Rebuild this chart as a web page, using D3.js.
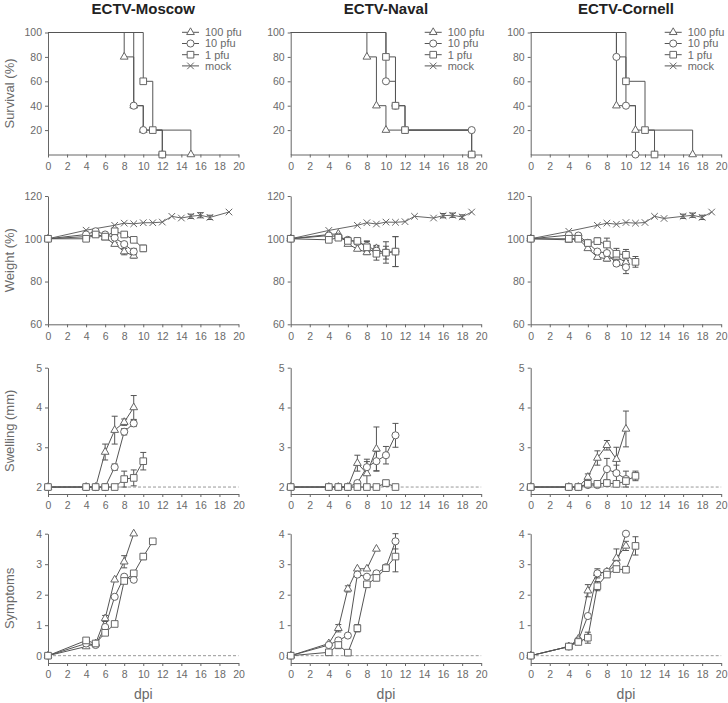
<!DOCTYPE html>
<html>
<head>
<meta charset="utf-8">
<script src="https://cdnjs.cloudflare.com/ajax/libs/d3/7.8.5/d3.min.js"></script>
<style>
body { margin: 0; background: #fff; }
text { font-family: "Liberation Sans", Arial, Helvetica, sans-serif; }
</style>
</head>
<body>
<svg id="chart" width="728" height="703"></svg>
<script>
// strains (columns) and groups (series)
var strains = ["ECTV-Moscow", "ECTV-Naval", "ECTV-Cornell"];
var groups = ["100 pfu", "10 pfu", "1 pfu", "mock"];
var dayTicks = [0, 2, 4, 6, 8, 10, 12, 14, 16, 18, 20];

// survival: [day, percent] - first point is the start, then each drop
var survMoscow = [
    [[0, 100], [8, 80], [9, 40], [10, 20], [15, 0]],
    [[0, 100], [9, 40], [10, 20], [12, 0]],
    [[0, 100], [10, 60], [11, 20], [12, 0]]
];
var survNaval = [
    [[0, 100], [8, 80], [9, 40], [10, 20], [19, 0]],
    [[0, 100], [10, 60], [11, 40], [12, 20], [19, 20]],
    [[0, 100], [10, 80], [11, 40], [12, 20], [19, 0]]
];
var survCornell = [
    [[0, 100], [9, 40], [11, 20], [17, 0]],
    [[0, 100], [9, 80], [10, 40], [11, 0]],
    [[0, 100], [10, 60], [12, 20], [13, 0]]
];

// weight: [day, mean %, sd]
var weightMoscow = [
    [[0, 100], [4, 101], [5, 102, 0.5], [6, 100.5, 0.5], [7, 97.5, 0.8], [8, 94, 1.5], [9, 92, 1]],
    [[0, 100], [4, 102], [5, 103.5], [6, 102, 0.5], [7, 100.5, 0.5], [8, 97.5, 1], [9, 94, 1.5]],
    [[0, 100], [4, 100], [5, 102, 0.5], [6, 101, 0.5], [7, 103.5, 0.8], [8, 102, 0.5], [9, 99.5, 1], [10, 95.5, 1.5]],
    [[0, 100], [4, 104], [7, 106.3], [8, 107.3], [9, 107], [10, 107.5], [11, 107.5], [12, 107.8], [13, 110.5], [14, 109.7], [15, 110.5, 1], [16, 111, 1.2], [17, 110, 1], [19, 112.5]]
];
var weightNaval = [
    [[0, 100], [4, 102], [5, 102.3], [6, 97.5], [7, 95.2], [8, 93.6, 1], [9, 95.5, 1]],
    [[0, 100], [4, 101.5], [5, 101], [6, 99.5], [7, 98.5, 1], [8, 96.7, 2], [9, 94.4, 2.5], [10, 93.6, 5], [11, 94, 7]],
    [[0, 100], [4, 99.5], [5, 100.5], [6, 99], [7, 99, 1], [8, 96, 3], [9, 93, 3], [10, 93.5, 3], [11, 94, 7]],
    [[0, 100], [4, 103.9], [7, 106.3], [8, 107.5], [9, 106.9], [10, 107.8], [11, 107.7], [12, 108], [13, 110.5], [15, 109.7], [16, 110.8, 1], [17, 111, 1], [18, 110.2, 1], [19, 112.5]]
];
var weightCornell = [
    [[0, 100], [4, 99.5, 1], [5, 100], [6, 95.5], [7, 91.4], [8, 90.6, 1], [9, 91.5, 2], [10, 89, 2]],
    [[0, 100], [4, 101.7], [5, 101.5], [6, 98.1], [7, 94], [8, 93.3], [9, 88.4, 1], [10, 86.7, 3]],
    [[0, 100], [4, 100], [5, 100], [6, 98], [7, 98.9, 1.5], [8, 97.3, 3], [9, 93, 2.5], [10, 92.5, 2.5], [11, 89.2, 2.5]],
    [[0, 100], [4, 103.5], [7, 106.3], [8, 107.3], [9, 106.8], [10, 107.6], [11, 107.3], [12, 107.6], [13, 110.5], [14, 109.5], [16, 110.5, 1], [17, 111, 1], [18, 110, 1], [19, 112.5]]
];

// footpad swelling: [day, mm, sd]
var swellMoscow = [
    [[0, 2], [4, 2], [5, 2], [6, 2.88, 0.2], [7, 3.43, 0.35], [8, 3.63, 0.08], [9, 4.0, 0.3]],
    [[0, 2], [4, 2], [5, 2], [6, 2], [7, 2.5, 0.08], [8, 3.39, 0.08], [9, 3.6, 0.08]],
    [[0, 2], [4, 2], [5, 2], [6, 2], [7, 2], [8, 2.2, 0.2], [9, 2.23, 0.2], [10, 2.65, 0.22]]
];
var swellNaval = [
    [[0, 2], [4, 2], [5, 2], [6, 2], [7, 2.6, 0.2], [8, 2.34, 0.3], [9, 2.96, 0.55]],
    [[0, 2], [4, 2], [5, 2], [6, 2], [7, 2.1], [8, 2.5, 0.2], [9, 2.65, 0.25], [10, 2.8, 0.22], [11, 3.3, 0.3]],
    [[0, 2], [4, 2], [5, 2], [6, 2], [7, 2], [8, 2], [9, 2], [10, 2.1, 0.07], [11, 2]]
];
var swellCornell = [
    [[0, 2], [4, 2], [5, 2], [6, 2.25, 0.08], [7, 2.73, 0.18], [8, 3.05, 0.12], [9, 2.7, 0.3], [10, 3.46, 0.45]],
    [[0, 2], [4, 2], [5, 2], [6, 2.05], [7, 2.05], [8, 2.45, 0.27], [9, 2.35, 0.2], [10, 2.2, 0.2]],
    [[0, 2], [4, 2], [5, 2], [6, 2.08], [7, 2.08], [8, 2.1], [9, 2.08], [10, 2.15], [11, 2.28, 0.12]]
];

// clinical score: [day, score, sd]
var sympMoscow = [
    [[0, 0], [4, 0.3], [5, 0.4], [6, 1.22, 0.1], [7, 2.49], [8, 3.08, 0.2], [9, 4.0]],
    [[0, 0], [4, 0.4], [5, 0.35], [6, 0.94], [7, 1.93], [8, 2.59], [9, 2.49]],
    [[0, 0], [4, 0.5], [5, 0.4], [6, 0.75], [7, 1.04], [8, 2.45], [9, 2.7], [10, 3.25, 0.1], [11, 3.75]]
];
var sympNaval = [
    [[0, 0], [4, 0.4], [5, 0.9, 0.12], [6, 2.19, 0.1], [7, 2.85], [8, 2.85], [9, 3.5]],
    [[0, 0], [4, 0.35], [5, 0.5], [6, 0.66], [7, 2.66], [8, 2.59], [9, 2.7], [10, 2.9], [11, 3.75, 0.25]],
    [[0, 0], [4, 0.11], [5, 0.35, 0.12], [6, 0.1], [7, 0.9, 0.12], [8, 2.34], [9, 2.55], [10, 2.87], [11, 3.25, 0.5]]
];
var sympCornell = [
    [[0, 0], [4, 0.3], [5, 0.55], [6, 2.13, 0.2], [7, 2.7], [8, 2.75], [9, 3.2, 0.3], [10, 3.6, 0.15]],
    [[0, 0], [4, 0.3], [5, 0.5], [6, 1.3], [7, 2.7, 0.15], [8, 2.75], [9, 3.0], [10, 4.0]],
    [[0, 0], [4, 0.3], [5, 0.45], [6, 0.59, 0.18], [7, 2.28, 0.15], [8, 2.66], [9, 2.84], [10, 2.82], [11, 3.6, 0.3]]
];

var rowNames = ["Survival (%)", "Weight (%)", "Swelling (mm)", "Symptoms"];
var rowData = [
    [survMoscow, survNaval, survCornell],
    [weightMoscow, weightNaval, weightCornell],
    [swellMoscow, swellNaval, swellCornell],
    [sympMoscow, sympNaval, sympCornell]
];
var rowTicks = [[20, 40, 60, 80, 100], [60, 80, 100, 120], [2, 3, 4, 5], [0, 1, 2, 3, 4]];
var rowBaseline = [null, null, 2, 0];

// layout
var svg = d3.select("#chart");
var colLeft = [48, 290.7, 530.7];
var colWidth = 190.5;
var rowDomain = [[0, 100], [60, 120], [1.825, 5], [-0.24, 4]];
var rowRange = [[154.5, 32.5], [324.3, 196], [494, 367.7], [663, 533.7]];

var lineColor = "#555";
var markColor = "#666";
var axisColor = "#666";
var textColor = "#6a6a6a";

var symbolFor = [
    d3.symbol().type(d3.symbolTriangle).size(26),
    d3.symbol().type(d3.symbolCircle).size(40),
    d3.symbol().type(d3.symbolSquare).size(44),
    d3.symbol().type(d3.symbolTimes).size(30)
];

var drawMarks = function(g, pts, k, xScale, yScale) {
    g.selectAll(null)
        .data(pts)
        .enter()
        .append("path")
        .attr("d", symbolFor[k])
        .attr("transform", function(d) {
            return "translate(" + xScale(d[0]) + "," + yScale(d[1]) + ")";
        })
        .attr("fill", k == 3 ? "none" : "#fff")
        .attr("stroke", markColor)
        .attr("stroke-width", 1);
}

var drawErrors = function(g, pts, xScale, yScale) {
    var withErr = pts.filter(function(d) { return d[2]; });
    var eg = g.selectAll(null).data(withErr).enter().append("g")
        .attr("stroke", lineColor).attr("stroke-width", 1);
    eg.append("line")
        .attr("x1", function(d) { return xScale(d[0]); })
        .attr("x2", function(d) { return xScale(d[0]); })
        .attr("y1", function(d) { return yScale(d[1] - d[2]); })
        .attr("y2", function(d) { return yScale(d[1] + d[2]); });
    [-1, 1].forEach(function(s) {
        eg.append("line")
            .attr("x1", function(d) { return xScale(d[0]) - 3; })
            .attr("x2", function(d) { return xScale(d[0]) + 3; })
            .attr("y1", function(d) { return yScale(d[1] + s * d[2]); })
            .attr("y2", function(d) { return yScale(d[1] + s * d[2]); });
    });
}

var drawPanel = function(r, c) {
    var xScale = d3.scaleLinear().domain([0, 20]).range([colLeft[c], colLeft[c] + colWidth]);
    var yScale = d3.scaleLinear().domain(rowDomain[r]).range(rowRange[r]);
    var g = svg.append("g");

    var xAxis = g.append("g")
        .attr("transform", "translate(0," + rowRange[r][0] + ")")
        .call(d3.axisBottom(xScale).tickValues(dayTicks).tickSize(3).tickSizeOuter(0).tickPadding(5));
    var yAxis = g.append("g")
        .attr("transform", "translate(" + colLeft[c] + ",0)")
        .call(d3.axisLeft(yScale).tickValues(rowTicks[r]).tickFormat(d3.format("d"))
            .tickSize(3).tickSizeOuter(0).tickPadding(3));
    [xAxis, yAxis].forEach(function(a) {
        a.selectAll("path, line").attr("stroke", axisColor);
        a.selectAll("text").attr("fill", textColor).style("font-size", "10.5px");
    });

    if (rowBaseline[r] !== null) {
        g.append("line")
            .attr("x1", xScale(0)).attr("x2", xScale(20))
            .attr("y1", yScale(rowBaseline[r])).attr("y2", yScale(rowBaseline[r]))
            .attr("stroke", "#999").attr("stroke-dasharray", "3,2");
    }

    var series = rowData[r][c];
    var line = d3.line()
        .x(function(d) { return xScale(d[0]); })
        .y(function(d) { return yScale(d[1]); });
    if (r == 0) line.curve(d3.curveStepAfter);

    // mock drawn underneath, then 100, 10, 1 pfu
    var order = series.length == 4 ? [3, 0, 1, 2] : [0, 1, 2];
    order.forEach(function(k) {
        g.append("path")
            .attr("d", line(series[k]))
            .attr("fill", "none")
            .attr("stroke", k == 3 ? "#666" : lineColor)
            .attr("stroke-width", 1);
        drawErrors(g, series[k], xScale, yScale);
    });
    order.forEach(function(k) {
        var pts = r == 0 ? series[k].slice(1) : series[k];
        drawMarks(g, pts, k, xScale, yScale);
    });

    if (r == 0) {
        // column title and legend
        svg.append("text")
            .attr("x", colLeft[c] + colWidth / 2)
            .attr("y", 14)
            .attr("text-anchor", "middle")
            .style("font-size", "15px")
            .style("font-weight", "bold")
            .attr("fill", "#222")
            .text(strains[c]);
        var leg = svg.append("g").attr("transform", "translate(" + (colLeft[c] + 134) + ",32.3)");
        groups.forEach(function(name, k) {
            var row = leg.append("g").attr("transform", "translate(0," + (k * 11.2) + ")");
            row.append("line").attr("x1", 0).attr("x2", 17).attr("stroke", lineColor);
            row.append("path").attr("d", symbolFor[k]).attr("transform", "translate(8.5,0)")
                .attr("fill", k == 3 ? "none" : "#fff").attr("stroke", markColor);
            row.append("text").attr("x", 23).attr("dy", "0.35em")
                .style("font-size", "11px").attr("fill", textColor).text(name);
        });
    }
    if (r == 3) {
        svg.append("text")
            .attr("x", colLeft[c] + colWidth / 2)
            .attr("y", 699)
            .attr("text-anchor", "middle")
            .style("font-size", "14px")
            .attr("fill", textColor)
            .text("dpi");
    }
    if (c == 0) {
        var mid = (rowRange[r][0] + rowRange[r][1]) / 2;
        svg.append("text")
            .attr("transform", "translate(14," + mid + ") rotate(-90)")
            .attr("text-anchor", "middle")
            .style("font-size", "13px")
            .attr("fill", textColor)
            .text(rowNames[r]);
    }
}

for (var r = 0; r < 4; r++) {
    for (var c = 0; c < 3; c++) {
        drawPanel(r, c);
    }
}
</script>
</body>
</html>
